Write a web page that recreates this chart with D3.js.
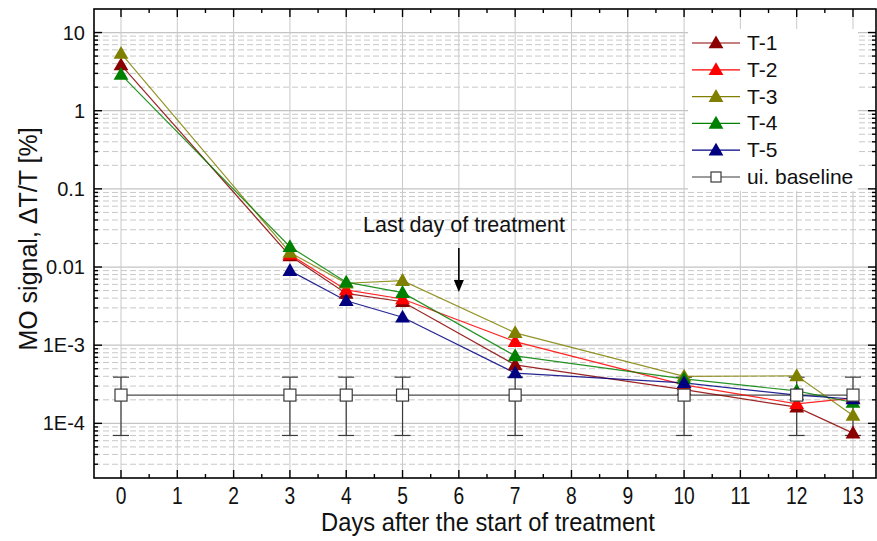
<!DOCTYPE html>
<html>
<head>
<meta charset="utf-8">
<script src="https://cdn.jsdelivr.net/npm/d3@7"></script>
<style>
  body { margin: 0; background: #fff; }
  svg { display: block; }
  text { font-family: "Liberation Sans", Arial, sans-serif; fill: #111; }
</style>
</head>
<body>
<div id="chart"></div>
<script>
// days with measurements
const days = [0, 3, 4, 5, 7, 10, 12, 13];
const seriesNames = ["T-1", "T-2", "T-3", "T-4", "T-5"];
const seriesColors = ["#8b0000", "#ff0000", "#808000", "#008000", "#000080"];

// MO signal values [%], null = not measured
const t1 = [3.85, 0.0139, 0.0046, 0.0036, 0.00056, 0.00027, 0.000161, 0.000075];
const t2 = [null, 0.0145, 0.0051, 0.0039, 0.00111, 0.00031, 0.000178, 0.00021];
const t3 = [5.4, 0.0153, 0.0062, 0.0067, 0.00144, 0.0004, 0.000405, 0.000126];
const t4 = [2.9, 0.0182, 0.0064, 0.0047, 0.00073, 0.00037, 0.00026, 0.000185];
const t5 = [null, 0.009, 0.0037, 0.00228, 0.00044, 0.00033, 0.00023, 0.000205];

// untreated baseline with error bars
const baseline = [0.00023, 0.00023, 0.00023, 0.00023, 0.00023, 0.00023, 0.00023, 0.00023];
const baselineErr = [0.00016, 0.00016, 0.00016, 0.00016, 0.00016, 0.00016, 0.00016, 0.00016];

const xTicks = d3.range(0, 14);
const yTicks = [1e1, 1, 0.1, 0.01, 1e-3, 1e-4];
const yTickLabels = ["10", "1", "0.1", "0.01", "1E-3", "1E-4"];

const width = 877, height = 541;
const plot = {left: 94, right: 876, top: 9, bottom: 478};

const svg = d3.select("#chart").append("svg")
    .attr("width", width)
    .attr("height", height);

const xScale = d3.scaleLinear().domain([0, 13]).range([121, 853]);
const yScale = d3.scaleLog().domain([2e-5, 20]).range([plot.bottom, plot.top]);

/*
GRID
*/
const grid = svg.append("g");
// minor horizontal (dashed)
const minorY = [];
for (let e = -5; e <= 1; e++) {
    for (let m = 2; m <= 9; m++) {
        const v = m * Math.pow(10, e);
        if (v > 2e-5 && v < 20) minorY.push(v);
    }
}
grid.selectAll(".gminor").data(minorY).enter().append("line")
    .attr("x1", plot.left).attr("x2", plot.right)
    .attr("y1", d => yScale(d)).attr("y2", d => yScale(d))
    .attr("stroke", "#c8c8c8").attr("stroke-width", 1)
    .attr("stroke-dasharray", "6,3");
// major horizontal
grid.selectAll(".gmajor").data(yTicks).enter().append("line")
    .attr("x1", plot.left).attr("x2", plot.right)
    .attr("y1", d => yScale(d)).attr("y2", d => yScale(d))
    .attr("stroke", "#c4c4c4").attr("stroke-width", 1.2);
// vertical
grid.selectAll(".gx").data(xTicks).enter().append("line")
    .attr("x1", d => xScale(d)).attr("x2", d => xScale(d))
    .attr("y1", plot.top).attr("y2", plot.bottom)
    .attr("stroke", "#c8c8c8").attr("stroke-width", 1);

/*
LEGEND BACKGROUND (drawn under data, over grid)
*/
const legend = {x: 688, y: 29, w: 170, h: 162, row: 26.8};
svg.append("rect")
    .attr("x", legend.x).attr("y", legend.y)
    .attr("width", legend.w).attr("height", legend.h)
    .attr("fill", "#fff");

/*
BASELINE
*/
const bl = days.map((d, i) => ({day: d, v: baseline[i], e: baselineErr[i]}));
const line = d3.line().x(d => xScale(d.day)).y(d => yScale(d.v));

svg.append("path")
    .datum(bl)
    .attr("d", line)
    .attr("fill", "none")
    .attr("stroke", "#4a4a4a")
    .attr("stroke-width", 1.2);

const eb = svg.append("g").attr("stroke", "#3a3a3a").attr("stroke-width", 1.2);
bl.forEach(function(d) {
    const x = xScale(d.day);
    const y1 = yScale(d.v + d.e), y2 = yScale(d.v - d.e);
    eb.append("line").attr("x1", x).attr("x2", x).attr("y1", y1).attr("y2", y2);
    eb.append("line").attr("x1", x - 8).attr("x2", x + 8).attr("y1", y1).attr("y2", y1);
    eb.append("line").attr("x1", x - 8).attr("x2", x + 8).attr("y1", y2).attr("y2", y2);
});

/*
SERIES
*/
const seriesData = [t1, t2, t3, t4, t5];
const tri = d3.symbol().type(d3.symbolTriangle).size(95);

seriesData.forEach(function(vals, k) {
    const pts = days.map((d, i) => ({day: d, v: vals[i]})).filter(p => p.v != null);
    svg.append("path")
        .datum(pts)
        .attr("d", line)
        .attr("fill", "none")
        .attr("stroke", seriesColors[k])
        .attr("stroke-opacity", 0.85)
        .attr("stroke-width", 1.2);
});
seriesData.forEach(function(vals, k) {
    const pts = days.map((d, i) => ({day: d, v: vals[i]})).filter(p => p.v != null);
    svg.selectAll(null).data(pts).enter().append("path")
        .attr("d", tri)
        .attr("transform", d => `translate(${xScale(d.day)},${yScale(d.v) + 1})`)
        .attr("fill", seriesColors[k]);
});

// baseline squares on top
svg.selectAll(null).data(bl).enter().append("rect")
    .attr("x", d => xScale(d.day) - 6)
    .attr("y", d => yScale(d.v) - 6)
    .attr("width", 12).attr("height", 12)
    .attr("fill", "#fff")
    .attr("stroke", "#3a3a3a")
    .attr("stroke-width", 1.2);

/*
FRAME + TICKS
*/
svg.append("rect")
    .attr("x", plot.left).attr("y", plot.top)
    .attr("width", plot.right - plot.left).attr("height", plot.bottom - plot.top)
    .attr("fill", "none").attr("stroke", "#000").attr("stroke-width", 1.6);

const tk = svg.append("g").attr("stroke", "#000").attr("stroke-width", 1.4);
const minorX = d3.range(-0.5, 13.5, 1);
xTicks.forEach(function(d) {
    const x = xScale(d);
    tk.append("line").attr("x1", x).attr("x2", x).attr("y1", plot.bottom).attr("y2", plot.bottom - 8);
    tk.append("line").attr("x1", x).attr("x2", x).attr("y1", plot.top).attr("y2", plot.top + 8);
});
minorX.forEach(function(d) {
    const x = xScale(d);
    if (x <= plot.left + 1 || x >= plot.right - 1) return;
    tk.append("line").attr("x1", x).attr("x2", x).attr("y1", plot.bottom).attr("y2", plot.bottom - 4);
    tk.append("line").attr("x1", x).attr("x2", x).attr("y1", plot.top).attr("y2", plot.top + 4);
});
yTicks.forEach(function(d) {
    const y = yScale(d);
    tk.append("line").attr("x1", plot.left).attr("x2", plot.left + 8).attr("y1", y).attr("y2", y);
    tk.append("line").attr("x1", plot.right).attr("x2", plot.right - 8).attr("y1", y).attr("y2", y);
});
minorY.forEach(function(d) {
    const y = yScale(d);
    tk.append("line").attr("x1", plot.left).attr("x2", plot.left + 4).attr("y1", y).attr("y2", y);
    tk.append("line").attr("x1", plot.right).attr("x2", plot.right - 4).attr("y1", y).attr("y2", y);
});

/*
TICK LABELS
*/
svg.selectAll(".xl").data(xTicks).enter().append("text")
    .attr("transform", d => `translate(${xScale(d)},504) scale(0.8,1)`)
    .attr("text-anchor", "middle")
    .attr("font-size", 24)
    .text(d => d);

svg.selectAll(".yl").data(yTicks).enter().append("text")
    .attr("x", 85)
    .attr("y", d => yScale(d) + 7)
    .attr("text-anchor", "end")
    .attr("font-size", 20)
    .text((d, i) => yTickLabels[i]);

/*
AXIS TITLES
*/
svg.append("text")
    .attr("transform", "translate(488,531) scale(0.95,1)")
    .attr("text-anchor", "middle")
    .attr("font-size", 25)
    .text("Days after the start of treatment");

svg.append("text")
    .attr("transform", "translate(37,239) rotate(-90)")
    .attr("text-anchor", "middle")
    .attr("font-size", 25)
    .text("MO signal, \u0394T/T [%]");

/*
ANNOTATION
*/
svg.append("text")
    .attr("x", 464).attr("y", 232)
    .attr("text-anchor", "middle")
    .attr("font-size", 21.5)
    .text("Last day of treatment");

svg.append("line")
    .attr("x1", xScale(6)).attr("x2", xScale(6))
    .attr("y1", 248).attr("y2", 282)
    .attr("stroke", "#000").attr("stroke-width", 1.6);
svg.append("path")
    .attr("d", `M${xScale(6) - 5},280 L${xScale(6) + 5},280 L${xScale(6)},292 Z`)
    .attr("fill", "#000");

/*
LEGEND
*/
const legendItems = seriesNames.concat(["ui. baseline"]);
legendItems.forEach(function(name, i) {
    const cy = legend.y + 14 + i * legend.row;
    const isBase = i === 5;
    const col = isBase ? "#3a3a3a" : seriesColors[i];
    svg.append("line")
        .attr("x1", 692).attr("x2", 740)
        .attr("y1", cy).attr("y2", cy)
        .attr("stroke", col).attr("stroke-width", 1.2);
    if (isBase) {
        svg.append("rect")
            .attr("x", 716 - 5).attr("y", cy - 5)
            .attr("width", 10).attr("height", 10)
            .attr("fill", "#fff").attr("stroke", "#3a3a3a").attr("stroke-width", 1.2);
    } else {
        svg.append("path")
            .attr("d", tri)
            .attr("transform", `translate(716,${cy + 1})`)
            .attr("fill", col);
    }
    svg.append("text")
        .attr("x", 747).attr("y", cy + 7)
        .attr("font-size", 21)
        .text(name);
});
</script>
</body>
</html>
